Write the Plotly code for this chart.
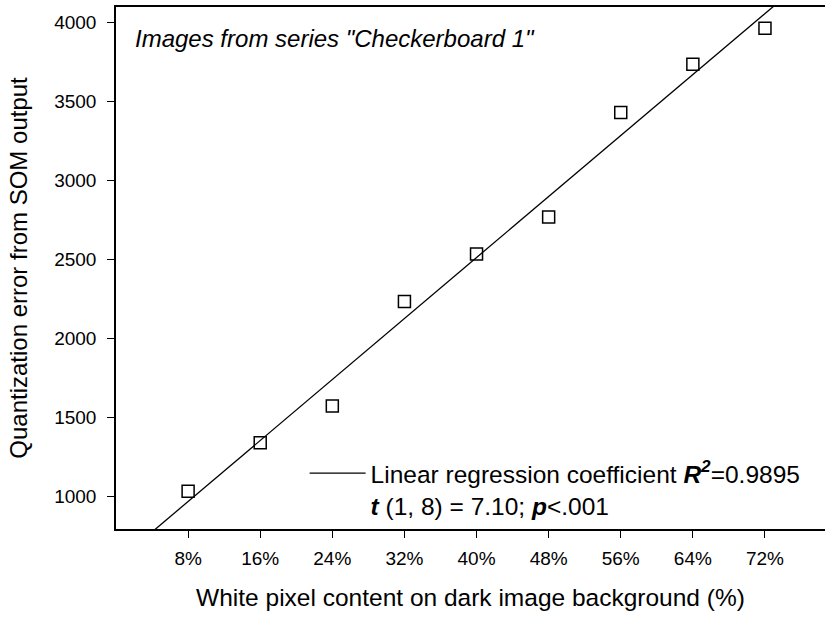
import numpy as np
import plotly.graph_objects as go

# Data
white_pct = [8, 16, 24, 32, 40, 48, 56, 64, 72]
quant_error = [1034, 1341, 1573, 2234, 2535, 2769, 3429, 3735, 3962]
x_ticks = [8, 16, 24, 32, 40, 48, 56, 64, 72]
x_tick_labels = ["8%", "16%", "24%", "32%", "40%", "48%", "56%", "64%", "72%"]
y_ticks = [1000, 1500, 2000, 2500, 3000, 3500, 4000]

# Least-squares regression line fitted to the points
slope, intercept = np.polyfit(white_pct, quant_error, 1)
x_fit = np.array([0, 80])
y_fit = slope * x_fit + intercept

FONT = "Arial, Liberation Sans, sans-serif"

fig = go.Figure()
fig.add_trace(go.Scatter(
    x=x_fit, y=y_fit, mode="lines",
    line=dict(color="black", width=1.3),
    name=("Linear regression coefficient <b><i>R<sup>2</sup></i></b>=0.9895<br>"
          "<b><i>t</i></b> (1, 8) = 7.10; <b><i>p</i></b>&lt;.001"),
    showlegend=True,
))
fig.add_trace(go.Scatter(
    x=white_pct, y=quant_error, mode="markers",
    marker=dict(symbol="square-open", size=12, color="black", line=dict(width=1.5)),
    showlegend=False,
))

fig.update_layout(
    width=825, height=617,
    margin=dict(l=116, r=0, t=7, b=88),
    paper_bgcolor="white", plot_bgcolor="white",
    font=dict(family=FONT, size=19, color="black"),
    legend=dict(
        x=0.266, y=0.15, xanchor="left", yanchor="top",
        bgcolor="rgba(0,0,0,0)", font=dict(size=24.5, family=FONT, color="black"),
        valign="top", itemwidth=56, tracegroupgap=0,
    ),
    annotations=[dict(
        text='<i>Images from series "Checkerboard 1"</i>',
        xref="paper", yref="paper", x=0.024, y=0.9387,
        xanchor="left", yanchor="middle", showarrow=False,
        font=dict(size=24, family=FONT, color="black"),
    )],
)
fig.update_xaxes(
    range=[0, 78.66], tickvals=x_ticks, ticktext=x_tick_labels,
    showline=True, linecolor="black", linewidth=1.5, mirror=True,
    ticks="outside", ticklen=7, tickwidth=1.3, tickcolor="black",
    ticklabelstandoff=4, showgrid=False, zeroline=False, automargin=False,
    title=dict(text="White pixel content on dark image background (%)",
               font=dict(size=24.5, family=FONT), standoff=21),
)
fig.update_yaxes(
    range=[795.7, 4096.8], tickvals=y_ticks,
    showline=True, linecolor="black", linewidth=1.5, mirror=False,
    ticks="outside", ticklen=7, tickwidth=1.3, tickcolor="black",
    ticklabelstandoff=7, showgrid=False, zeroline=False, automargin=False,
    title=dict(text="Quantization error from SOM output",
               font=dict(size=24, family=FONT), standoff=20),
)

fig.write_html("out.html", config={"displayModeBar": False},
               post_script="document.body.style.margin='0';")
